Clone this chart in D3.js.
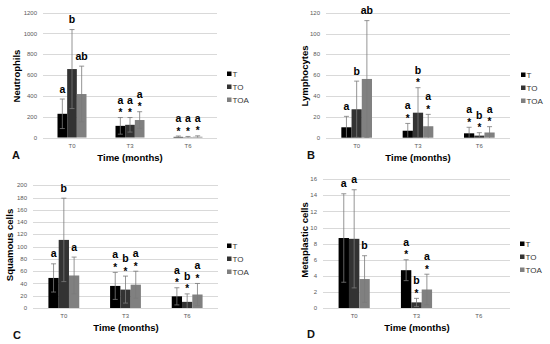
<!DOCTYPE html>
<html>
<head>
<meta charset="utf-8">
<script src="https://cdn.jsdelivr.net/npm/d3@7/dist/d3.min.js"></script>
<style>
    body { margin: 0; background: #fff; }
    svg { display: block; font-family: 'Liberation Sans', Arial, sans-serif; }
</style>
</head>
<body>
<svg id="chart" width="550" height="344"></svg>
<script>
// time points and treatment groups
var times = ['T0', 'T3', 'T6'];
var groups = ['T', 'TO', 'TOA'];
var groupColors = ['#000000', '#333333', '#808080'];

// Neutrophils: mean and SD per group, one value per time point
var neutroT = [228, 112, 6];
var neutroTO = [658, 122, 3];
var neutroTOA = [418, 168, 7];
var neutroSdT = [142, 80, 8];
var neutroSdTO = [380, 70, 7];
var neutroSdTOA = [268, 80, 9];
var neutroLetters = [['a', 'b', 'ab'], ['a', 'a', 'a'], ['a', 'a', 'a']];
var neutroStars = [false, true, true];

// Lymphocytes
var lymphoT = [10, 6.7, 4.2];
var lymphoTO = [27.3, 24, 2];
var lymphoTOA = [56.4, 11, 5];
var lymphoSdT = [10.5, 7, 5.8];
var lymphoSdTO = [27, 24, 2.8];
var lymphoSdTOA = [56, 11.4, 5.6];
var lymphoLetters = [['a', 'b', 'ab'], ['a', 'b', 'a'], ['a', 'b', 'a']];
var lymphoStars = [false, true, true];

// Squamous cells
var squamT = [49, 36, 19];
var squamTO = [111, 30, 10];
var squamTOA = [53, 38, 22];
var squamSdT = [23, 22, 14];
var squamSdTO = [68, 22, 13];
var squamSdTOA = [30, 22, 18];
var squamLetters = [['a', 'b', 'a'], ['a', 'b', 'a'], ['a', 'b', 'a']];
var squamStars = [false, true, true];

// Metaplastic cells (no data at T6)
var metaT = [8.7, 4.7, null];
var metaTO = [8.6, 0.7, null];
var metaTOA = [3.6, 2.3, null];
var metaSdT = [5.5, 1.3, null];
var metaSdTO = [6.1, 0.5, null];
var metaSdTOA = [2.9, 1.9, null];
var metaLetters = [['a', 'a', 'b'], ['a', 'b', 'a'], null];
var metaStars = [false, true, false];

var svg = d3.select('#chart');

svg.append('rect')
    .attr('width', 550)
    .attr('height', 344)
    .attr('fill', '#fff');

/**
 * Draw one bar panel
 *  means / sds  - arrays per group, each indexed by time point
 *  letters      - significance letters per time point
 *  stars        - whether a time point carries asterisks
 */
var drawPanel = function (o) {

    var g = svg.append('g');

    var x = d3.scaleBand()
        .domain(times)
        .range(o.xRange)
        .paddingInner(0.5)
        .paddingOuter(0.25);

    var xSub = d3.scaleBand()
        .domain(groups)
        .range([0, x.bandwidth()]);

    var y = d3.scaleLinear()
        .domain([0, o.max])
        .range(o.yRange);

    var ticks = d3.range(0, o.max + o.step / 2, o.step);

    // gridlines
    g.selectAll('.grid')
        .data(ticks)
        .enter().append('line')
        .attr('x1', o.xRange[0])
        .attr('x2', o.xRange[1])
        .attr('y1', function (d) { return Math.round(y(d)) + 0.5; })
        .attr('y2', function (d) { return Math.round(y(d)) + 0.5; })
        .attr('stroke', '#d9d9d9')
        .attr('stroke-width', 1);

    g.selectAll('.ytick')
        .data(ticks)
        .enter().append('text')
        .attr('x', o.xRange[0] - 6)
        .attr('y', function (d) { return y(d); })
        .attr('dy', '0.35em')
        .attr('text-anchor', 'end')
        .attr('font-size', 6)
        .attr('fill', '#595959')
        .text(function (d) { return d; });

    g.selectAll('.xtick')
        .data(times)
        .enter().append('text')
        .attr('x', function (d) { return x(d) + x.bandwidth() / 2; })
        .attr('y', o.yRange[0] + 8)
        .attr('dy', '0.35em')
        .attr('text-anchor', 'middle')
        .attr('font-size', 6)
        .attr('fill', '#595959')
        .text(function (d) { return d; });

    // flatten to one record per bar
    var bars = [];
    times.forEach(function (t, ti) {
        groups.forEach(function (grp, gi) {
            var v = o.means[gi][ti];
            if (v === null) return;
            bars.push({
                time: t,
                group: grp,
                gi: gi,
                value: v,
                sd: o.sds[gi][ti],
                letter: o.letters[ti] ? o.letters[ti][gi] : null,
                star: o.stars[ti]
            });
        });
    });

    var cx = function (d) { return x(d.time) + xSub(d.group) + xSub.bandwidth() / 2; };

    g.selectAll('.bar')
        .data(bars)
        .enter().append('rect')
        .attr('x', function (d) { return x(d.time) + xSub(d.group); })
        .attr('y', function (d) { return y(d.value); })
        .attr('width', xSub.bandwidth())
        .attr('height', function (d) { return y(0) - y(d.value); })
        .attr('fill', function (d) { return groupColors[d.gi]; });

    // error bars (mean +/- SD)
    var err = g.selectAll('.err')
        .data(bars)
        .enter().append('g')
        .attr('stroke', '#7a7a7a')
        .attr('stroke-width', 0.8);

    err.append('line')
        .attr('x1', cx).attr('x2', cx)
        .attr('y1', function (d) { return y(Math.max(0, d.value - d.sd)); })
        .attr('y2', function (d) { return y(d.value + d.sd); });

    err.append('line')
        .attr('x1', function (d) { return cx(d) - 2.5; })
        .attr('x2', function (d) { return cx(d) + 2.5; })
        .attr('y1', function (d) { return y(d.value + d.sd); })
        .attr('y2', function (d) { return y(d.value + d.sd); });

    err.filter(function (d) { return d.value - d.sd > 0; })
        .append('line')
        .attr('x1', function (d) { return cx(d) - 2.5; })
        .attr('x2', function (d) { return cx(d) + 2.5; })
        .attr('y1', function (d) { return y(d.value - d.sd); })
        .attr('y2', function (d) { return y(d.value - d.sd); });

    // asterisks and letters above the error caps
    g.selectAll('.star')
        .data(bars.filter(function (d) { return d.star; }))
        .enter().append('text')
        .attr('x', cx)
        .attr('y', function (d) { return y(d.value + d.sd) - 1.5; })
        .attr('text-anchor', 'middle')
        .attr('font-size', 10)
        .attr('font-weight', 'bold')
        .text('*');

    g.selectAll('.letter')
        .data(bars.filter(function (d) { return d.letter; }))
        .enter().append('text')
        .attr('x', cx)
        .attr('y', function (d) { return y(d.value + d.sd) - (d.star ? 14 : 6.5); })
        .attr('text-anchor', 'middle')
        .attr('font-size', 10.5)
        .attr('font-weight', 'bold')
        .text(function (d) { return d.letter; });

    // legend
    var legend = g.selectAll('.legend')
        .data(groups)
        .enter().append('g')
        .attr('transform', function (d, i) {
            return 'translate(' + o.legend[0] + ',' + (o.legend[1] + i * 13) + ')';
        });

    legend.append('rect')
        .attr('x', 0)
        .attr('y', -2.5)
        .attr('width', 4.5)
        .attr('height', 4.5)
        .attr('fill', function (d, i) { return groupColors[i]; });

    legend.append('text')
        .attr('x', 5.5)
        .attr('y', 0)
        .attr('dy', '0.35em')
        .attr('font-size', 8)
        .attr('fill', '#333')
        .text(function (d) { return d; });

    // axis titles and panel letter
    g.append('text')
        .attr('transform', 'translate(' + o.yTitle[0] + ',' + o.yTitle[1] + ') rotate(-90)')
        .attr('dy', '0.35em')
        .attr('text-anchor', 'middle')
        .attr('font-size', 9.5)
        .attr('font-weight', 'bold')
        .text(o.title);

    g.append('text')
        .attr('x', o.xTitle[0])
        .attr('y', o.xTitle[1])
        .attr('dy', '0.35em')
        .attr('text-anchor', 'middle')
        .attr('font-size', 9.5)
        .attr('font-weight', 'bold')
        .text('Time (months)');

    g.append('text')
        .attr('x', o.tag[0])
        .attr('y', o.tag[1])
        .attr('dy', '0.35em')
        .attr('font-size', 11)
        .attr('font-weight', 'bold')
        .attr('fill', '#111')
        .text(o.tagText);

};

drawPanel({
    title: 'Neutrophils', tagText: 'A',
    means: [neutroT, neutroTO, neutroTOA],
    sds: [neutroSdT, neutroSdTO, neutroSdTOA],
    letters: neutroLetters, stars: neutroStars,
    max: 1200, step: 200,
    xRange: [43, 217], yRange: [137.5, 12.7],
    legend: [227, 74], yTitle: [17, 76], xTitle: [130, 158], tag: [12, 155]
});

drawPanel({
    title: 'Lymphocytes', tagText: 'B',
    means: [lymphoT, lymphoTO, lymphoTOA],
    sds: [lymphoSdT, lymphoSdTO, lymphoSdTOA],
    letters: lymphoLetters, stars: lymphoStars,
    max: 120, step: 20,
    xRange: [326, 510], yRange: [137.7, 12.7],
    legend: [521, 75], yTitle: [305, 76], xTitle: [418, 158], tag: [307, 155]
});

drawPanel({
    title: 'Squamous cells', tagText: 'C',
    means: [squamT, squamTO, squamTOA],
    sds: [squamSdT, squamSdTO, squamSdTOA],
    letters: squamLetters, stars: squamStars,
    max: 200, step: 20,
    xRange: [33, 218], yRange: [308, 185.3],
    legend: [227, 246], yTitle: [10, 245], xTitle: [126, 328], tag: [13, 335]
});

drawPanel({
    title: 'Metaplastic cells', tagText: 'D',
    means: [metaT, metaTO, metaTOA],
    sds: [metaSdT, metaSdTO, metaSdTOA],
    letters: metaLetters, stars: metaStars,
    max: 16, step: 2,
    xRange: [323, 510], yRange: [308, 179.3],
    legend: [520, 244], yTitle: [305, 240], xTitle: [417, 328], tag: [307, 334]
});
</script>
</body>
</html>
